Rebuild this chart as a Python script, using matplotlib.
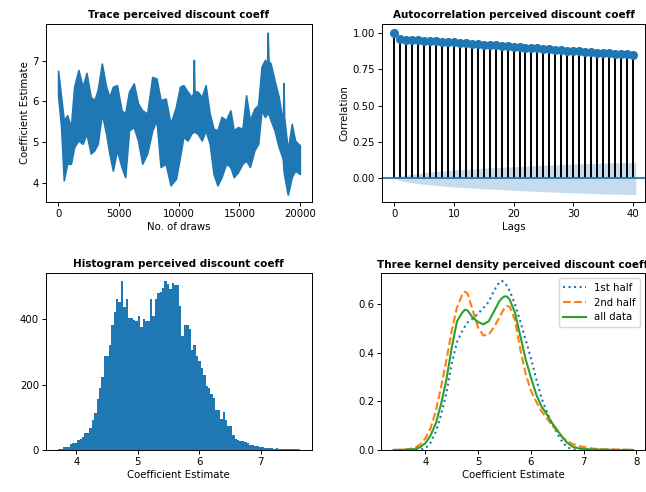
import numpy as np
import matplotlib
matplotlib.use("Agg")
import matplotlib.pyplot as plt

# ----------------------------
# DATA
# ----------------------------
# trace: envelope (low / high) of the chain at a set of draw positions
TRACE_DRAW = [0, 250, 470, 750, 1060, 1330, 1680, 2030, 2350, 2700, 3000, 3280,
              3620, 3970, 4250, 4530, 4870, 5250, 5550, 5870, 6260, 6610, 6960,
              7370, 7790, 8140, 8480, 8900, 9300, 9750, 10080, 10360, 10710,
              11030, 11180, 11230, 11280, 11540, 11890, 12200, 12540, 12860, 13180, 13520,
              13900, 14250, 14530, 14870, 15250, 15550, 15870, 16240, 16550,
              16830, 17110, 17290, 17340, 17400, 17580, 17900, 18250, 18550, 18600,
              18650, 18700, 19000, 19330, 19600, 19999]
TRACE_HI = [6.75, 6.11, 5.54, 5.66, 5.37, 6.36, 6.77, 6.36, 6.70, 6.11, 6.03, 6.28,
            6.93, 6.36, 6.11, 6.36, 6.40, 5.78, 5.70, 6.24, 6.44, 5.95, 5.78,
            5.70, 6.60, 6.56, 6.03, 6.07, 5.45, 5.87, 6.36, 6.40, 6.24,
            6.11, 6.20, 7.02, 6.25, 6.24, 6.11, 6.40, 5.70, 5.33, 5.29, 5.62,
            5.54, 5.78, 5.29, 5.37, 5.33, 6.15, 5.54, 5.82, 5.91,
            6.85, 7.02, 6.90, 7.69, 7.00, 6.93, 6.52, 6.11, 5.54, 5.60,
            6.45, 5.60, 4.80, 5.45, 5.04, 4.92]
TRACE_LO = [6.15, 5.37, 4.06, 4.47, 4.47, 4.88, 5.04, 4.96, 5.21, 4.72, 4.80, 4.96,
            5.70, 5.21, 4.72, 4.30, 4.80, 4.39, 4.14, 5.29, 5.37, 5.04, 4.47,
            4.72, 5.29, 5.54, 4.39, 4.47, 3.94, 4.10, 4.63, 5.13, 5.04,
            5.21, 5.25, 5.29, 5.25, 5.21, 5.04, 5.29, 4.96, 4.22, 3.94, 4.14,
            4.47, 4.39, 4.14, 4.26, 4.47, 4.55, 4.39, 4.80, 4.96,
            5.78, 5.62, 5.70, 5.78, 5.70, 5.54, 5.29, 4.88, 4.63, 4.55,
            4.30, 4.20, 3.71, 4.14, 4.30, 4.22]

# autocorrelation (lags 0..40) and half width of the confidence band
ACF_VALUES = [1.000, 0.956, 0.954, 0.952, 0.950, 0.947, 0.945, 0.943, 0.940, 0.937,
              0.935, 0.932, 0.929, 0.926, 0.923, 0.921, 0.918, 0.915, 0.912, 0.909,
              0.906, 0.903, 0.900, 0.897, 0.894, 0.891, 0.888, 0.885, 0.882, 0.879,
              0.876, 0.873, 0.870, 0.867, 0.865, 0.862, 0.860, 0.858, 0.856, 0.854,
              0.852]
ACF_BAND = [0.000, 0.014, 0.023, 0.030, 0.035, 0.040, 0.044, 0.048, 0.051, 0.055,
            0.058, 0.061, 0.063, 0.066, 0.068, 0.071, 0.073, 0.075, 0.077, 0.079,
            0.081, 0.083, 0.085, 0.087, 0.089, 0.091, 0.092, 0.094, 0.096, 0.097,
            0.099, 0.100, 0.102, 0.103, 0.105, 0.106, 0.107, 0.108, 0.109, 0.110,
            0.110]

# histogram: 100 bins between HIST_MIN and HIST_MAX
HIST_MIN, HIST_MAX = 3.70, 7.64
HIST_COUNTS = [3, 4, 9, 10, 10, 18, 20, 20, 30, 33,
               40, 51, 51, 68, 92, 114, 155, 191, 224, 288,
               288, 322, 384, 424, 461, 453, 517, 437, 461, 405,
               405, 398, 395, 410, 377, 402, 395, 395, 461, 410,
               461, 480, 484, 495, 517, 508, 494, 510, 505, 506,
               442, 348, 382, 382, 370, 305, 320, 287, 274, 251,
               229, 195, 190, 170, 159, 121, 121, 96, 116, 93,
               73, 73, 47, 35, 30, 27, 27, 24, 20, 16,
               14, 11, 11, 8, 8, 7, 6, 6, 5, 4,
               5, 3, 4, 2, 4, 4, 4, 2, 3, 2]

# kernel densities
KDE_X = [3.4, 3.5, 3.6, 3.7, 3.8, 3.9, 4.0, 4.1, 4.2, 4.3, 4.4, 4.5, 4.6, 4.7, 4.75,
         4.8, 4.9, 5.0, 5.1, 5.2, 5.3, 5.4, 5.45, 5.5, 5.55, 5.6, 5.7, 5.8, 5.9, 6.0,
         6.1, 6.2, 6.3, 6.4, 6.5, 6.6, 6.7, 6.8, 6.9, 7.0, 7.1, 7.2, 7.3, 7.4, 7.5,
         7.6, 7.7, 7.8, 7.94]
KDE_FIRST = [0.000, 0.000, 0.000, 0.000, 0.001, 0.002, 0.006, 0.030, 0.075, 0.145,
             0.235, 0.355, 0.445, 0.490, 0.508, 0.525, 0.542, 0.562, 0.585, 0.610,
             0.656, 0.690, 0.697, 0.690, 0.675, 0.655, 0.600, 0.530, 0.455, 0.380,
             0.295, 0.215, 0.160, 0.110, 0.068, 0.032, 0.010, 0.003, 0.001, 0.000,
             0.000, 0.000, 0.000, 0.000, 0.000, 0.000, 0.000, 0.000, 0.000]
KDE_SECOND = [0.000, 0.001, 0.002, 0.004, 0.009, 0.022, 0.048, 0.090, 0.160, 0.260,
              0.370, 0.490, 0.587, 0.640, 0.652, 0.645, 0.575, 0.505, 0.472, 0.475,
              0.505, 0.545, 0.565, 0.585, 0.594, 0.590, 0.535, 0.415, 0.315, 0.245,
              0.200, 0.160, 0.132, 0.102, 0.078, 0.052, 0.035, 0.024, 0.017, 0.012,
              0.008, 0.005, 0.004, 0.003, 0.003, 0.002, 0.002, 0.001, 0.001]
KDE_ALL = [0.000, 0.000, 0.001, 0.002, 0.004, 0.011, 0.028, 0.060, 0.110, 0.190,
           0.290, 0.420, 0.530, 0.566, 0.578, 0.575, 0.545, 0.527, 0.518, 0.530,
           0.570, 0.612, 0.625, 0.633, 0.632, 0.620, 0.565, 0.470, 0.375, 0.300,
           0.230, 0.180, 0.148, 0.112, 0.082, 0.052, 0.028, 0.013, 0.007, 0.004,
           0.003, 0.002, 0.002, 0.001, 0.001, 0.000, 0.000, 0.000, 0.000]

NAME = "perceived discount coeff"

# ----------------------------
# STYLE
# ----------------------------
plt.rcParams.update({
    "font.family": "DejaVu Sans",
    "font.size": 7.3,
    "axes.linewidth": 0.7,
    "xtick.major.width": 0.7,
    "ytick.major.width": 0.7,
    "xtick.major.size": 2.6,
    "ytick.major.size": 2.6,
    "xtick.major.pad": 2.5,
    "ytick.major.pad": 2.5,
    "axes.titlepad": 4,
    "axes.labelpad": 2,
})
TITLE_KW = dict(fontsize=7.5, fontweight="bold")

fig = plt.figure(figsize=(6.46, 4.92), dpi=100)
ax_tr = fig.add_axes([0.0712, 0.5894, 0.4117, 0.3618])
ax_ac = fig.add_axes([0.5918, 0.5894, 0.4063, 0.3618])
ax_hi = fig.add_axes([0.0712, 0.0854, 0.4113, 0.3604])
ax_kd = fig.add_axes([0.5902, 0.0854, 0.4080, 0.3591])

# trace
ax_tr.fill_between(TRACE_DRAW, TRACE_LO, TRACE_HI, color="C0", lw=1.2, edgecolor="C0")
ax_tr.set_xlim(-1000, 21000)
ax_tr.set_ylim(3.53, 7.9)
ax_tr.set_xticks([0, 5000, 10000, 15000, 20000])
ax_tr.set_yticks([4, 5, 6, 7])
ax_tr.set_xlabel("No. of draws")
ax_tr.set_ylabel("Coefficient Estimate")
ax_tr.set_title("Trace " + NAME, **TITLE_KW)

# autocorrelation
lags = np.arange(len(ACF_VALUES))
band = np.array(ACF_BAND)
band_x = lags.astype(float)
band_x[-1] += 0.5
ax_ac.fill_between(band_x, -band, band, color="C0", alpha=0.25, lw=0)
ax_ac.vlines(lags, 0, ACF_VALUES, color="black", lw=1.4)
ax_ac.axhline(0, color="C0", lw=1.3)
ax_ac.plot(lags, ACF_VALUES, "o", color="C0", ms=5.5)
ax_ac.set_xlim(-2, 42)
ax_ac.set_ylim(-0.162, 1.062)
ax_ac.set_xticks([0, 10, 20, 30, 40])
ax_ac.set_yticks([0, 0.25, 0.5, 0.75, 1.0])
ax_ac.set_yticklabels(["0.00", "0.25", "0.50", "0.75", "1.00"])
ax_ac.set_xlabel("Lags")
ax_ac.set_ylabel("Correlation")
ax_ac.set_title("Autocorrelation " + NAME, **TITLE_KW)

# histogram
edges = np.linspace(HIST_MIN, HIST_MAX, len(HIST_COUNTS) + 1)
centers = (edges[:-1] + edges[1:]) / 2
ax_hi.hist(centers, bins=edges, weights=HIST_COUNTS, color="C0")
ax_hi.set_xlim(3.507, 7.83)
ax_hi.set_ylim(0, 543)
ax_hi.set_xticks([4, 5, 6, 7])
ax_hi.set_yticks([0, 200, 400])
ax_hi.set_xlabel("Coefficient Estimate")
ax_hi.set_title("Histogram " + NAME, **TITLE_KW)

# kernel densities
ax_kd.plot(KDE_X, KDE_FIRST, ":", color="C0", lw=1.5, label="1st half")
ax_kd.plot(KDE_X, KDE_SECOND, "--", color="C1", lw=1.5, label="2nd half")
ax_kd.plot(KDE_X, KDE_ALL, "-", color="C2", lw=1.5, label="all data")
ax_kd.set_xlim(3.166, 8.16)
ax_kd.set_ylim(0, 0.728)
ax_kd.set_xticks([4, 5, 6, 7, 8])
ax_kd.set_yticks([0, 0.2, 0.4, 0.6])
ax_kd.set_xlabel("Coefficient Estimate")
ax_kd.set_title("Three kernel density " + NAME, **TITLE_KW)
ax_kd.legend(loc="upper right", fontsize=7.3, handlelength=2.2, borderpad=0.45,
             labelspacing=0.45)

fig.savefig("out.png", dpi=100)
